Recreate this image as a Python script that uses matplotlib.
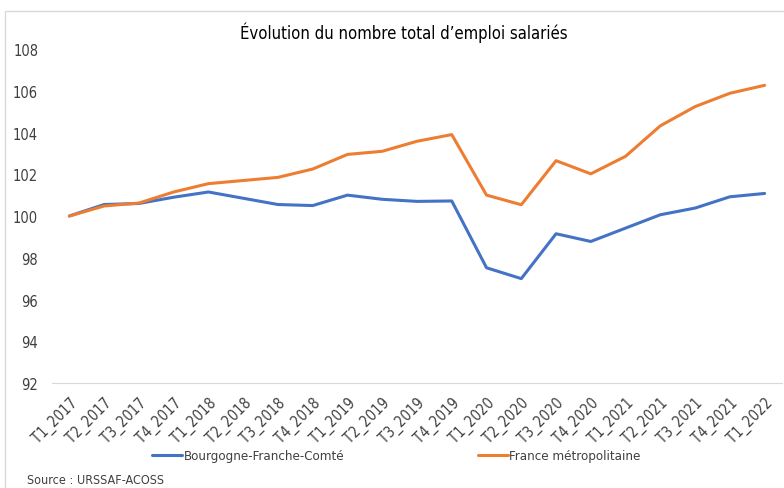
import matplotlib
matplotlib.use('Agg')
import matplotlib.pyplot as plt
from matplotlib.patches import Rectangle

plt.rcParams['font.family'] = ['DejaVu Sans']
plt.rcParams['font.stretch'] = 'condensed'

trimestres = ['T1_2017', 'T2_2017', 'T3_2017', 'T4_2017',
              'T1_2018', 'T2_2018', 'T3_2018', 'T4_2018',
              'T1_2019', 'T2_2019', 'T3_2019', 'T4_2019',
              'T1_2020', 'T2_2020', 'T3_2020', 'T4_2020',
              'T1_2021', 'T2_2021', 'T3_2021', 'T4_2021',
              'T1_2022']
bfc = [100.0, 100.55, 100.6, 100.9, 101.15, 100.85, 100.55, 100.5,
       101.0, 100.8, 100.7, 100.72, 97.52, 97.0, 99.15, 98.78,
       99.42, 100.06, 100.38, 100.92, 101.08]
france = [100.0, 100.48, 100.62, 101.15, 101.55, 101.7, 101.85, 102.25,
          102.95, 103.1, 103.58, 103.9, 101.0, 100.54, 102.65, 102.02,
          102.86, 104.32, 105.24, 105.88, 106.26]
yticks = [92, 94, 96, 98, 100, 102, 104, 106, 108]

fig = plt.figure(figsize=(7.84, 4.89), dpi=100)
ax = fig.add_axes([52 / 784, 1 - 384 / 489, 730 / 784, 334 / 489])

x = list(range(len(trimestres)))
ax.plot(x, bfc, color='#4472C4', lw=2.2, label='Bourgogne-Franche-Comté', solid_capstyle='round')
ax.plot(x, france, color='#ED7D31', lw=2.2, label='France métropolitaine', solid_capstyle='round')

ax.set_xlim(-0.5, len(trimestres) - 0.5)
ax.set_ylim(92, 108)
ax.set_yticks(yticks)
ax.set_xticks(x)
ax.set_xticklabels(trimestres, rotation=45, ha='right', rotation_mode='anchor')
ax.tick_params(axis='both', length=0, labelsize=10.5, colors='#404040')
ax.tick_params(axis='y', pad=10)
ax.tick_params(axis='x', pad=8)
for s in ['top', 'right', 'left']:
    ax.spines[s].set_visible(False)
ax.spines['bottom'].set_color('#D9D9D9')

fig.text(404 / 784, 1 - 33 / 489, "Évolution du nombre total d\u2019emploi salariés",
         ha='center', va='center', fontsize=12, color='#000000')

leg = fig.legend(loc='center left', bbox_to_anchor=(152 / 784, 1 - 457 / 489), ncol=2,
                 frameon=False, fontsize=9.5, handlelength=2.3, handletextpad=0.1,
                 columnspacing=10.1, borderaxespad=0, borderpad=0)
for t in leg.get_texts():
    t.set_color('#404040')

fig.text(27 / 784, 1 - 481 / 489, 'Source : URSSAF-ACOSS', ha='left', va='center',
         fontsize=9, color='#404040')

fig.patches.append(Rectangle((5 / 784, -0.01), 1.0, 1 - 12 / 489 + 0.01,
                             transform=fig.transFigure, fill=False,
                             edgecolor='#D9D9D9', lw=1))

fig.savefig('out.png', dpi=100)
